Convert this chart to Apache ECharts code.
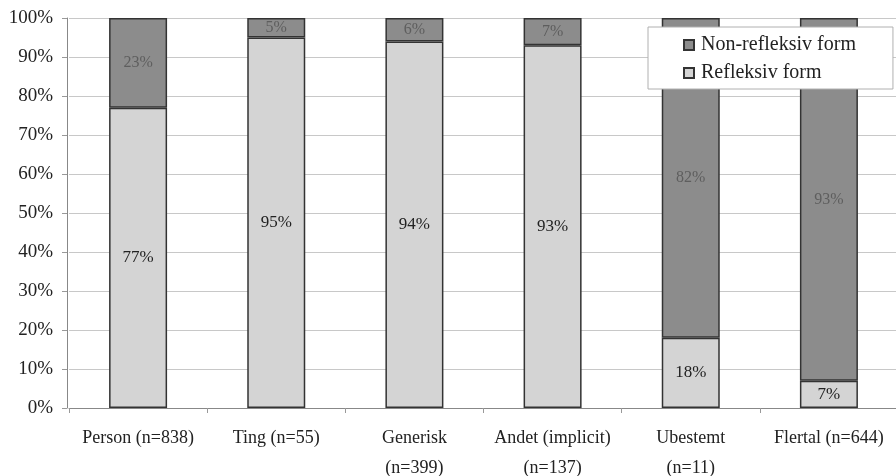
<!DOCTYPE html>
<html>
<head>
<meta charset="utf-8">
<script src="https://cdn.jsdelivr.net/npm/echarts@6/dist/echarts.min.js"></script>
<style>
html,body{margin:0;padding:0;background:#fff;}
#chart{width:896px;height:476px;}
</style>
</head>
<body>
<div id="chart"></div>
<script>
var categories = ['Person (n=838)', 'Ting (n=55)', 'Generisk\n(n=399)', 'Andet (implicit)\n(n=137)', 'Ubestemt\n(n=11)', 'Flertal (n=644)'];
var refleksiv = [77, 95, 94, 93, 18, 7];
var nonRefleksiv = [23, 5, 6, 7, 82, 93];
var yTicks = [0, 10, 20, 30, 40, 50, 60, 70, 80, 90, 100];

var font = '"Liberation Serif", "DejaVu Serif", serif';
var chart = echarts.init(document.getElementById('chart'), null, {renderer: 'canvas'});
chart.setOption({
  animation: false,
  backgroundColor: '#fff',
  textStyle: {fontFamily: font},
  grid: {left: 69, right: -2, top: 18, bottom: 68, containLabel: false, outerBoundsMode: 'none'},
  legend: {
    orient: 'vertical',
    left: 648, top: 27,
    padding: [8, 37, 6, 35],
    itemGap: 8,
    itemWidth: 10, itemHeight: 10,
    icon: 'rect',
    backgroundColor: '#fff',
    borderColor: '#b0b0b0', borderWidth: 1,
    data: ['Non-refleksiv form', 'Refleksiv form'],
    textStyle: {fontFamily: font, fontSize: 20, color: '#222', padding: [0, 0, 0, 2]}
  },
  xAxis: {
    type: 'category',
    data: categories,
    axisLine: {lineStyle: {color: '#888', width: 1}},
    axisTick: {show: true, alignWithLabel: false, length: 5, lineStyle: {color: '#999'}},
    axisLabel: {fontFamily: font, fontSize: 18, color: '#222', margin: 15, lineHeight: 30, interval: 0}
  },
  yAxis: {
    type: 'value',
    min: 0, max: 100, interval: 10,
    offset: 2,
    axisLine: {show: true, lineStyle: {color: '#888'}},
    axisTick: {show: true, length: 5, lineStyle: {color: '#999'}},
    splitLine: {show: true, lineStyle: {color: '#c8c8c8', width: 1}},
    axisLabel: {
      fontFamily: font, fontSize: 19, color: '#222', margin: 14,
      formatter: function (v) { return yTicks.indexOf(v) >= 0 ? v + '%' : ''; }
    }
  },
  series: [
    {
      name: 'Refleksiv form', type: 'bar', stack: 's', barWidth: 58,
      data: refleksiv,
      itemStyle: {color: '#d4d4d4', borderColor: '#333', borderWidth: 1.5},
      label: {show: true, position: 'inside', formatter: '{c}%', fontFamily: font, fontSize: 17, color: '#222'}
    },
    {
      name: 'Non-refleksiv form', type: 'bar', stack: 's', barWidth: 58,
      data: nonRefleksiv,
      itemStyle: {color: '#8c8c8c', borderColor: '#333', borderWidth: 1.5},
      label: {show: true, position: 'inside', formatter: '{c}%', fontFamily: font, fontSize: 16, color: '#5e5e5e'}
    }
  ]
});
</script>
</body>
</html>
